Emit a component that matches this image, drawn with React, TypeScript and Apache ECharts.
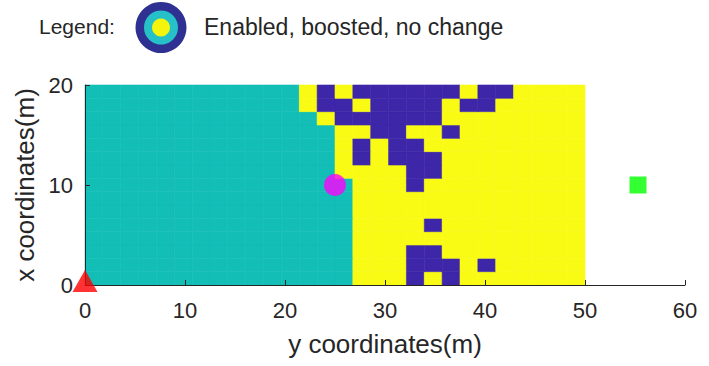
import React, { useEffect, useRef } from "react";
import * as echarts from "echarts";

// Grid of the map: 28 columns over 0..50 m (horizontal), 15 rows over 0..20 m (vertical)
const X_CELLS = 28;
const Y_CELLS = 15;
const X_EXTENT = 50;
const Y_EXTENT = 20;

// Rows listed from bottom (row 0) to top (row 14)
// number of "teal" cells counted from the left in each row
const tealColumns = [15, 15, 15, 15, 15, 15, 15, 15, 14, 14, 14, 14, 13, 12, 12];
// columns of the dark-blue cells in each row
const blueColumns: number[][] = [
  [18, 20],
  [18, 19, 20, 22],
  [18, 19],
  [],
  [19],
  [],
  [],
  [18],
  [18, 19],
  [15, 17, 18, 19],
  [15, 17, 18],
  [16, 17, 20],
  [14, 15, 16, 17, 18, 19],
  [13, 14, 16, 17, 18, 19, 21, 22],
  [13, 15, 16, 17, 18, 19, 20, 22, 23],
];

const trianglePoint = [[0, 0]];
const circlePoint = [[25, 10]];
const squarePoint = [[55.3, 10]];

const xTicks = [0, 10, 20, 30, 40, 50, 60];
const yTicks = [0, 10, 20];

const CELL_COLORS = ["#12BEB6", "#F9FB15", "#3E26A8"]; // teal, yellow, blue
const FONT = "'Liberation Sans', Arial, sans-serif";
const TXT = "#262626";

export default function App() {
  const ref = useRef<HTMLDivElement>(null);
  useEffect(() => {
    if (!ref.current) return;
    const chart = echarts.init(ref.current, null, { renderer: "svg" });
    const cells: number[][] = [];
    for (let r = 0; r < Y_CELLS; r++) {
      for (let c = 0; c < X_CELLS; c++) {
        let kind = c < tealColumns[r] ? 0 : 1;
        if (blueColumns[r].includes(c)) kind = 2;
        cells.push([c, r, kind]);
      }
    }
    const dx = X_EXTENT / X_CELLS;
    const dy = Y_EXTENT / Y_CELLS;
    chart.setOption({
      animation: false,
      backgroundColor: "#ffffff",
      grid: { left: 85, right: 24, top: 85, bottom: 81, containLabel: false },
      xAxis: {
        type: "value",
        min: xTicks[0],
        max: xTicks[xTicks.length - 1],
        interval: 10,
        z: 5,
        name: "y coordinates(m)",
        nameLocation: "middle",
        nameGap: 46,
        nameTextStyle: { fontSize: 26, color: TXT, fontFamily: FONT },
        axisLine: { show: true, lineStyle: { color: "#262626", width: 1 } },
        axisTick: { show: true, inside: true, length: 5, lineStyle: { color: "#262626" } },
        axisLabel: { fontSize: 22, color: TXT, fontFamily: FONT, margin: 14 },
        splitLine: { show: false },
      },
      yAxis: {
        type: "value",
        min: yTicks[0],
        max: yTicks[yTicks.length - 1],
        interval: 10,
        z: 5,
        name: "x coordinates(m)",
        nameLocation: "middle",
        nameGap: 38,
        nameTextStyle: { fontSize: 26, color: TXT, fontFamily: FONT },
        axisLine: { show: true, lineStyle: { color: "#262626", width: 1 } },
        axisTick: { show: true, inside: true, length: 5, lineStyle: { color: "#262626" } },
        axisLabel: { fontSize: 22, color: TXT, fontFamily: FONT, margin: 12, padding: [9, 0, 0, 0] },
        splitLine: { show: false },
      },
      series: [
        {
          type: "custom",
          z: 2,
          data: cells,
          encode: { x: 0, y: 1 },
          renderItem: (params: any, api: any) => {
            const c = api.value(0);
            const r = api.value(1);
            const k = api.value(2);
            const p0 = api.coord([c * dx, (r + 1) * dy]);
            const p1 = api.coord([(c + 1) * dx, r * dy]);
            return {
              type: "rect",
              shape: { x: p0[0], y: p0[1], width: p1[0] - p0[0], height: p1[1] - p0[1] },
              style: { fill: CELL_COLORS[k], stroke: CELL_COLORS[k], lineWidth: 0.6 },
            };
          },
        },
        {
          type: "scatter",
          z: 6,
          data: circlePoint,
          symbol: "circle",
          symbolSize: 22,
          itemStyle: { color: "#FF00FF" },
        },
        {
          type: "scatter",
          z: 6,
          data: squarePoint,
          symbol: "rect",
          symbolSize: 17,
          itemStyle: { color: "#00FF00" },
        },
        {
          type: "scatter",
          z: 6,
          data: trianglePoint,
          symbol: "triangle",
          symbolSize: [25, 22],
          symbolOffset: [0, -4],
          itemStyle: { color: "#FF0000" },
        },
      ],
      graphic: [
        {
          type: "text",
          left: 39,
          top: 16,
          style: { text: "Legend:", font: `21px ${FONT}`, fill: TXT },
        },
        { type: "circle", shape: { cx: 161, cy: 27.5, r: 25.5 }, style: { fill: "#2E3192" } },
        { type: "circle", shape: { cx: 161, cy: 27.5, r: 17 }, style: { fill: "#26C0C8" } },
        { type: "circle", shape: { cx: 161, cy: 27.5, r: 9 }, style: { fill: "#F4F40C" } },
        {
          type: "text",
          left: 204,
          top: 15,
          style: { text: "Enabled, boosted, no change", font: `23px ${FONT}`, fill: TXT },
        },
      ],
    });
    return () => chart.dispose();
  }, []);
  return (
    <div
      ref={ref}
      style={{ position: "fixed", left: 0, top: 0, width: 709, height: 366 }}
    />
  );
}
